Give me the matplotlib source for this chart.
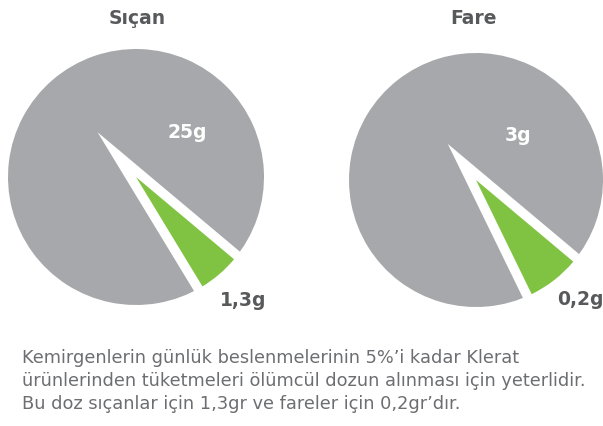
import numpy as np
import matplotlib
matplotlib.use('Agg')
import matplotlib.pyplot as plt
from matplotlib.patches import Wedge

# data
species = ['Sıçan', 'Fare']
daily_intake = [25, 3]          # g, whole pie
lethal_dose = [1.3, 0.2]        # g, green slice
intake_labels = ['25g', '3g']
dose_labels = ['1,3g', '0,2g']
caption = [
    'Kemirgenlerin günlük beslenmelerinin 5%’i kadar Klerat',
    'ürünlerinden tüketmeleri ölümcül dozun alınması için yeterlidir.',
    'Bu doz sıçanlar için 1,3gr ve fareler için 0,2gr’dır.',
]

W, H = 603, 426
GRAY = '#a7a8ab'
GREEN = '#80c342'
DARK = '#58595b'
TEXT = '#6d6e71'

fig = plt.figure(figsize=(W / 100, H / 100), dpi=100)
fig.patch.set_facecolor('white')

# pie centres / radii in pixels (image coords, y down)
centres = [(136, 177), (476, 180)]
radii = [128, 127]
title_pos = [(137, 18), (473, 18)]
dose_pos = [(243, 300), (580, 300)]
END_ANGLE = -40   # green slice ends here
GAP = 0.075       # white gap, in radius units
LIM = 1.6


def pie_axes(cx, cy, r):
    half = r * LIM
    ax = fig.add_axes([(cx - half) / W, (H - cy - half) / H, 2 * half / W, 2 * half / H])
    return ax


for i in range(len(species)):
    cx, cy = centres[i]
    r = radii[i]
    ax = pie_axes(cx, cy, r)
    vals = [lethal_dose[i], daily_intake[i] - lethal_dose[i]]
    wedges, _ = ax.pie(vals, colors=[GREEN, GRAY], startangle=END_ANGLE,
                       counterclock=False, radius=1, frame=True)
    ax.set_xlim(-LIM, LIM)
    ax.set_ylim(-LIM, LIM)
    ax.set_aspect('equal')
    ax.axis('off')
    green = wedges[0]
    green.set_zorder(3)
    t1, t2 = green.theta1, green.theta2
    half_ang = np.radians(t2 - t1) / 2
    mid = np.radians((t1 + t2) / 2)
    d = GAP / np.sin(half_ang)
    apex = (-d * np.cos(mid), -d * np.sin(mid))
    gap = Wedge(apex, d + 1.15, t1, t2, facecolor='white', edgecolor='none', zorder=2)
    ax.add_patch(gap)

    # labels
    gx = (187 - 136) / 128 if i == 0 else (518 - 476) / 127
    ax.text(gx, 0.35, intake_labels[i], color='white', fontsize=13.5,
            fontweight='bold', ha='center', va='center', zorder=5)
    dx, dy = dose_pos[i]
    ax.text((dx - cx) / r, (cy - dy) / r, dose_labels[i], color=DARK, fontsize=13.5,
            fontweight='bold', ha='center', va='center', zorder=5)

    tx, ty = title_pos[i]
    fig.text(tx / W, 1 - ty / H, species[i], color=DARK, fontsize=13.5,
             fontweight='bold', ha='center', va='center')

for j, line in enumerate(caption):
    fig.text(22 / W, 1 - (358 + 23 * j) / H, line, color=TEXT, fontsize=12.8,
             ha='left', va='center')

fig.savefig('out.png', dpi=100, facecolor='white')
